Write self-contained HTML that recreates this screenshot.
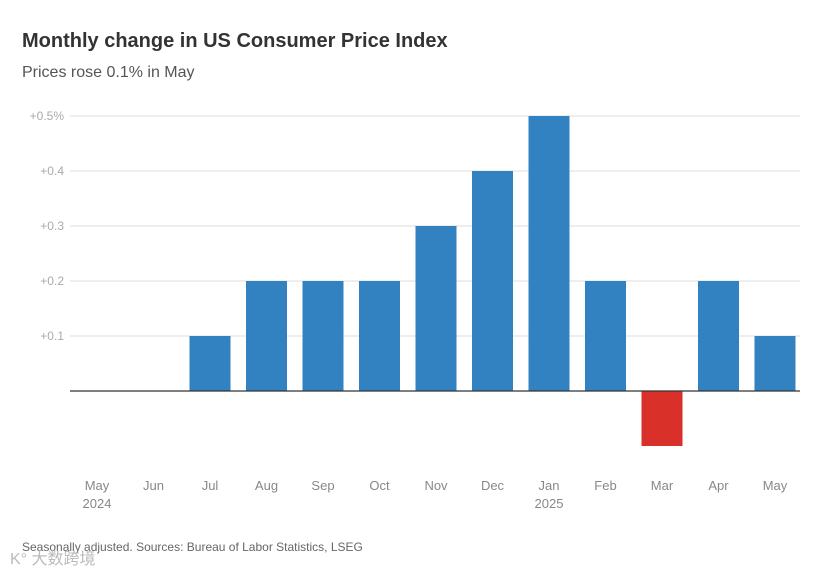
<!DOCTYPE html>
<html><head><meta charset="utf-8"><style>
body{margin:0;background:#fff;width:815px;height:575px;overflow:hidden;font-family:"Liberation Sans","Noto Sans CJK SC",sans-serif}
</style></head><body>
<svg id="chart" width="815" height="575" style="position:absolute;left:0;top:0">
<text x="22" y="47" font-size="20" font-weight="bold" fill="#333">Monthly change in US Consumer Price Index</text>
<text x="22" y="77" font-size="16" fill="#555">Prices rose 0.1% in May</text>
<g id="grid"></g><g id="bars"></g><g id="xlabels"></g>
<text x="22" y="551" font-size="12" fill="#666">Seasonally adjusted. Sources: Bureau of Labor Statistics, LSEG</text>
<text x="10" y="564" font-size="16" fill="#bbb">K° 大数跨境</text>
</svg>
<script>
const categories=["May","Jun","Jul","Aug","Sep","Oct","Nov","Dec","Jan","Feb","Mar","Apr","May"];
const yearLabels=["2024","","","","","","","","2025","","","",""];
const values=[0,0,0.1,0.2,0.2,0.2,0.3,0.4,0.5,0.2,-0.1,0.2,0.1];
const ticks=[0.1,0.2,0.3,0.4,0.5];
const tickLabels=["+0.1","+0.2","+0.3","+0.4","+0.5%"];
const NS="http://www.w3.org/2000/svg";
const y0=391,pxPer=550;
function yS(v){return y0-v*pxPer;}
function xS(i){return 97+i*56.5;}
function mk(t,a,p){const e=document.createElementNS(NS,t);for(const k in a)e.setAttribute(k,a[k]);p.appendChild(e);return e;}
const grid=document.getElementById('grid'),bars=document.getElementById('bars'),xl=document.getElementById('xlabels');
ticks.forEach((t,i)=>{
 const l=mk('line',{x1:70,x2:800,y1:yS(t),y2:yS(t),stroke:'#ddd','stroke-width':1},grid);
 
 
 const tx=mk('text',{x:64,y:yS(t)+4,'text-anchor':'end','font-size':12,fill:'#aaa'},grid);
 tx.textContent=tickLabels[i];
 
 
});
values.forEach((v,i)=>{
 if(v!==0){
  const top=Math.min(yS(v),y0),h=Math.abs(yS(v)-y0);
  const r=mk('rect',{x:xS(i)-20.5,y:top,width:41,height:h,fill:v<0?'#d9302a':'#3281c0'},bars);
  
  
 }
 const t=mk('text',{x:xS(i),y:490,'text-anchor':'middle','font-size':13,fill:'#888'},xl);
 t.textContent=categories[i];
 
 
 if(yearLabels[i]){
  const y=mk('text',{x:xS(i),y:508,'text-anchor':'middle','font-size':13,fill:'#888'},xl);
  y.textContent=yearLabels[i];
  
  
 }
});
const z=mk('line',{x1:70,x2:800,y1:y0,y2:y0,stroke:'#333','stroke-width':1.3},bars);


</script>
</body></html>
